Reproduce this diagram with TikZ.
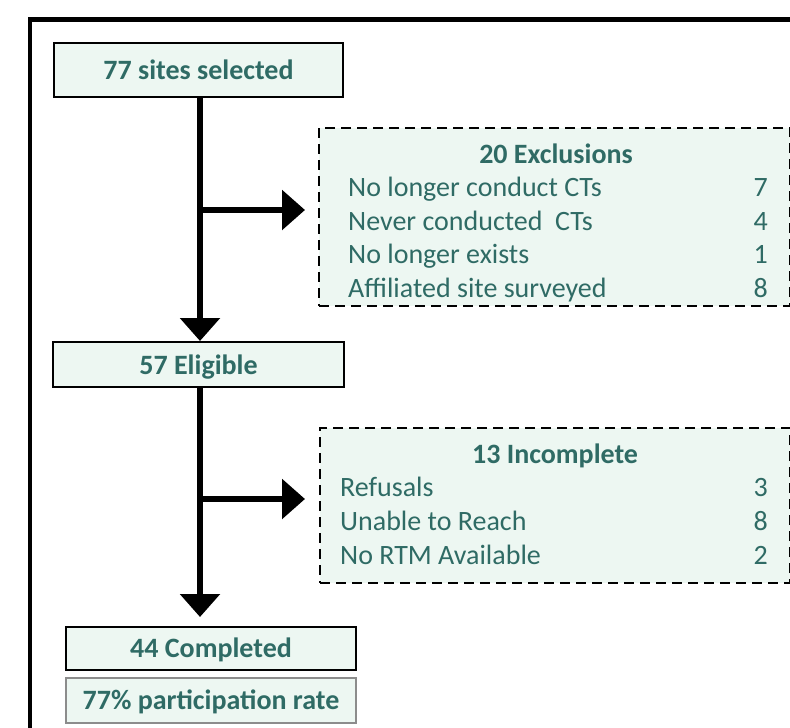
\documentclass[tikz,border=0pt]{standalone}
\usepackage{fontspec}
\setmainfont{Carlito}
\usetikzlibrary{arrows.meta}
\definecolor{tealtxt}{RGB}{47,107,101}
\definecolor{boxfill}{RGB}{237,247,242}
\definecolor{graybord}{RGB}{140,140,140}
\tikzset{
  x=1pt, y=-1pt,
  sbox/.style={draw=black, line width=2pt, fill=boxfill, inner sep=0pt, text=tealtxt,
    font=\fontsize{28}{34}\selectfont\bfseries, text height=20pt, text depth=2pt},
  dbox/.style={draw=black, line width=2pt, dash pattern=on 10pt off 6pt, fill=boxfill, inner sep=0pt},
  hdr/.style={inner sep=0pt, text=tealtxt, font=\fontsize{28}{34}\selectfont\bfseries},
  itm/.style={inner sep=0pt, text=tealtxt, font=\fontsize{28}{34}\selectfont},
  flow/.style={line width=6pt, -{Triangle[length=23pt,width=39pt]}},
}
\begin{document}
\begin{tikzpicture}
\useasboundingbox (0,0) rectangle (790,728);
% outer frame
\draw[line width=4.5pt] (30,730) -- (30,19.5) -- (792,19.5);

% main boxes
\node[sbox, minimum width=289pt, minimum height=54pt] (sel) at (198.5,70) {77 sites selected};
\node[sbox, text height=21pt, text depth=1pt, minimum width=291pt, minimum height=45pt] (elig) at (198.5,364.5) {57 Eligible};
\node[sbox, minimum width=290pt, minimum height=43pt] (comp) at (211,648.5) {44 Completed};
\node[sbox, draw=graybord, minimum width=290pt, minimum height=45pt] (rate) at (211,700.5) {77\% participation rate};

% exclusions box
\node[dbox, minimum width=471pt, minimum height=178pt, anchor=north west] (excl) at (318,127) {};
\node[hdr, anchor=base] (exclT) at (556,163) {20 Exclusions};
\node[itm, anchor=base west] (e1) at (348,196) {No longer conduct CTs};
\node[itm, anchor=base west] (e2) at (348,230) {Never conducted\ \ CTs};
\node[itm, anchor=base west] (e3) at (348,263) {No longer exists};
\node[itm, anchor=base west] (e4) at (348,297) {Affiliated site surveyed};
\node[itm, anchor=base east] (n1) at (768,196) {7};
\node[itm, anchor=base east] (n2) at (768,230) {4};
\node[itm, anchor=base east] (n3) at (768,263) {1};
\node[itm, anchor=base east] (n4) at (768,297) {8};

% incomplete box
\node[dbox, minimum width=470pt, minimum height=155pt, anchor=north west] (inc) at (319,427) {};
\node[hdr, anchor=base] (incT) at (555,463) {13 Incomplete};
\node[itm, anchor=base west] (i1) at (340,496) {Refusals};
\node[itm, anchor=base west] (i2) at (340,530) {Unable to Reach};
\node[itm, anchor=base west] (i3) at (340,564) {No RTM Available};
\node[itm, anchor=base east] (m1) at (768,496) {3};
\node[itm, anchor=base east] (m2) at (768,530) {8};
\node[itm, anchor=base east] (m3) at (768,564) {2};

% connectors
\coordinate (b1) at (200,210);
\coordinate (t1) at (305,210);
\coordinate (b2) at (200,499);
\coordinate (t2) at (305,499);
\coordinate (d2) at (200,617);

\draw[flow] (sel.south -| b1) -- (elig.north -| b1);
\draw[flow] (b1) -- (t1);
\draw[flow] (elig.south -| b2) -- (d2);
\draw[flow] (b2) -- (t2);
\end{tikzpicture}
\end{document}
